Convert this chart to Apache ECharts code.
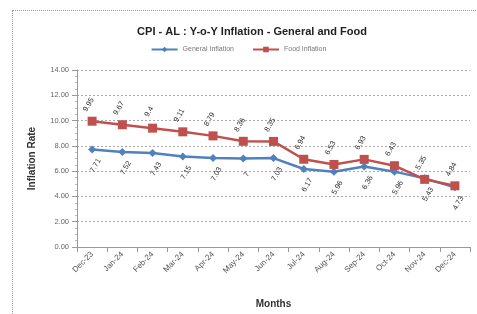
<!DOCTYPE html>
<html>
<head>
<meta charset="utf-8">
<script src="https://cdn.jsdelivr.net/npm/echarts@6/dist/echarts.min.js"></script>
<style>
html,body{margin:0;padding:0;background:#fff;}
#wrap{position:absolute;left:12px;top:10px;width:470px;height:310px;border:1px dotted #9a9a9a;box-sizing:border-box;}
#c{position:absolute;left:0;top:0;width:477px;height:314px;}
</style>
</head>
<body>
<div id="wrap"></div>
<div id="c"></div>
<script>
const months = ["Dec-23","Jan-24","Feb-24","Mar-24","Apr-24","May-24","Jun-24","Jul-24","Aug-24","Sep-24","Oct-24","Nov-24","Dec-24"];
const generalInflation = [7.71, 7.52, 7.43, 7.15, 7.03, 7, 7.03, 6.17, 5.96, 6.36, 5.96, 5.43, 4.73];
const foodInflation = [9.95, 9.67, 9.4, 9.11, 8.79, 8.36, 8.35, 6.94, 6.53, 6.93, 6.43, 5.35, 4.84];
const yTicks = [0, 2, 4, 6, 8, 10, 12, 14];

const chart = echarts.init(document.getElementById('c'));
const ff = "Liberation Sans, Arial, sans-serif";
chart.setOption({
  animation: false,
  title: {
    text: "CPI - AL : Y-o-Y Inflation - General and Food",
    left: 247, top: 21, textAlign: 'center',
    textStyle: {fontFamily: ff, fontSize: 11, fontWeight: 'bold', color: '#222'}
  },
  legend: {
    top: 41, left: 'center', itemGap: 18, itemWidth: 26, itemHeight: 7,
    textStyle: {fontFamily: ff, fontSize: 7, color: '#777'},
    data: ['General Inflation', 'Food Inflation']
  },
  grid: {left: 77, right: 7, top: 70, bottom: 61},
  xAxis: {
    type: 'category', data: months, boundaryGap: true,
    name: 'Months', nameLocation: 'middle', nameGap: 52,
    nameTextStyle: {fontFamily: ff, fontSize: 10, fontWeight: 'bold', color: '#333'},
    axisLine: {lineStyle: {color: '#999'}},
    axisTick: {show: true, alignWithLabel: false, lineStyle: {color: '#999'}},
    axisLabel: {rotate: 45, fontFamily: ff, fontSize: 8, color: '#555', margin: 6}
  },
  yAxis: {
    type: 'value', min: 0, max: 14, interval: 2,
    name: 'Inflation Rate', nameLocation: 'middle', nameGap: 40,
    nameTextStyle: {fontFamily: ff, fontSize: 10, fontWeight: 'bold', color: '#333'},
    axisLine: {show: true, lineStyle: {color: '#999'}},
    axisTick: {show: true, lineStyle: {color: '#999'}},
    minorTick: {show: true, splitNumber: 4, length: 2, lineStyle: {color: '#bbb'}},
    splitLine: {lineStyle: {color: '#aaa', type: [2, 2]}},
    axisLabel: {fontFamily: ff, fontSize: 7.5, color: '#666', formatter: v => yTicks.includes(v) ? v.toFixed(2) : ''}
  },
  series: [
    {
      name: 'General Inflation', type: 'line', data: generalInflation,
      symbol: 'diamond', symbolSize: 8,
      lineStyle: {color: '#4F81BD', width: 2.5},
      itemStyle: {color: '#4F81BD'},
      label: {show: true, position: 'bottom', rotate: 60, distance: 10, fontFamily: ff, fontSize: 7.5, color: '#333'},
      z: 2
    },
    {
      name: 'Food Inflation', type: 'line', data: foodInflation,
      symbol: 'rect', symbolSize: 9,
      lineStyle: {color: '#C0504D', width: 2.5},
      itemStyle: {color: '#C0504D'},
      label: {show: true, position: 'top', rotate: 60, distance: 10, fontFamily: ff, fontSize: 7.5, color: '#333'},
      z: 3
    }
  ]
});
</script>
</body>
</html>
